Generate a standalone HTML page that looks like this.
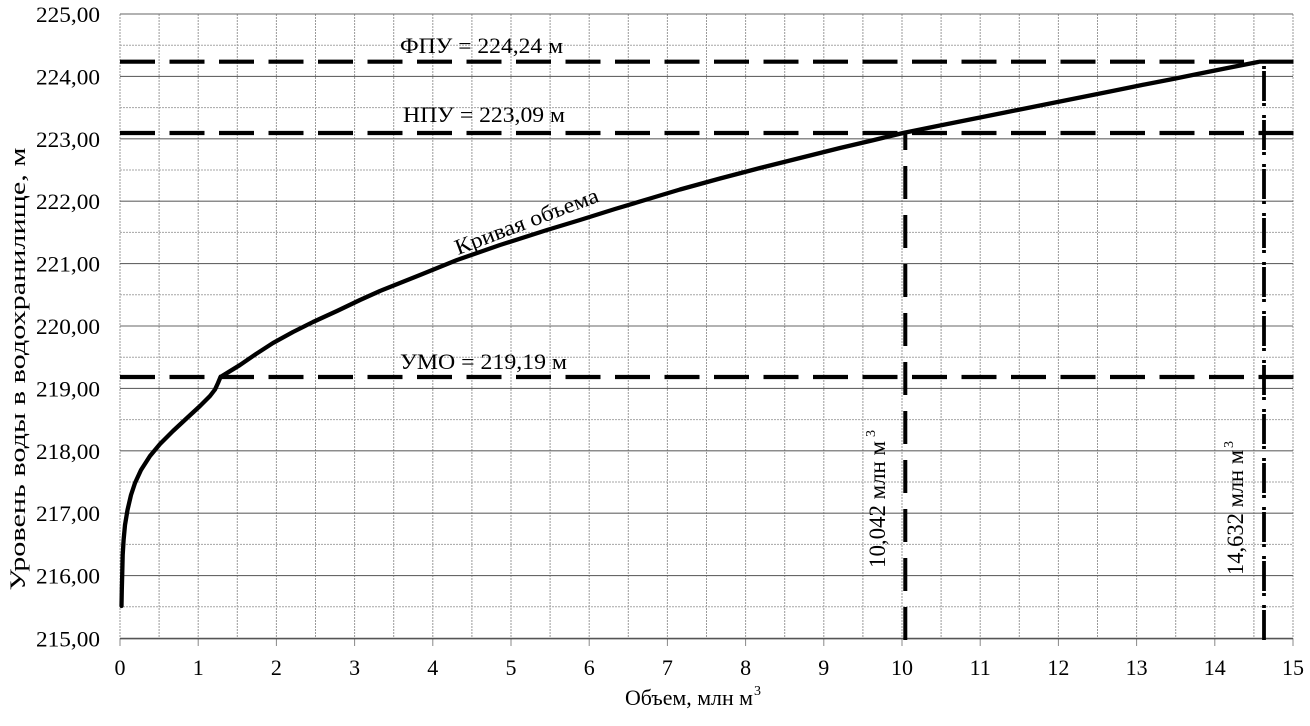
<!DOCTYPE html>
<html>
<head>
<meta charset="utf-8">
<style>
html,body{margin:0;padding:0;background:#fff;}
svg{display:block;}
text{font-family:"Liberation Serif","DejaVu Serif",serif;fill:#000;}
</style>
</head>
<body>
<svg width="1310" height="726" viewBox="0 0 1310 726" xmlns="http://www.w3.org/2000/svg">
<rect x="0" y="0" width="1310" height="726" fill="#fff"/>

<!-- vertical gridlines -->
<g stroke="#9a9a9a" stroke-width="1" stroke-dasharray="2 1">
<line x1="120" y1="14" x2="120" y2="639"/>
<line x1="159.1" y1="14" x2="159.1" y2="639"/>
<line x1="198.2" y1="14" x2="198.2" y2="639"/>
<line x1="237.3" y1="14" x2="237.3" y2="639"/>
<line x1="276.4" y1="14" x2="276.4" y2="639"/>
<line x1="315.5" y1="14" x2="315.5" y2="639"/>
<line x1="354.6" y1="14" x2="354.6" y2="639"/>
<line x1="393.7" y1="14" x2="393.7" y2="639"/>
<line x1="432.8" y1="14" x2="432.8" y2="639"/>
<line x1="471.9" y1="14" x2="471.9" y2="639"/>
<line x1="511" y1="14" x2="511" y2="639"/>
<line x1="550.1" y1="14" x2="550.1" y2="639"/>
<line x1="589.2" y1="14" x2="589.2" y2="639"/>
<line x1="628.3" y1="14" x2="628.3" y2="639"/>
<line x1="667.4" y1="14" x2="667.4" y2="639"/>
<line x1="706.5" y1="14" x2="706.5" y2="639"/>
<line x1="745.6" y1="14" x2="745.6" y2="639"/>
<line x1="784.7" y1="14" x2="784.7" y2="639"/>
<line x1="823.8" y1="14" x2="823.8" y2="639"/>
<line x1="862.9" y1="14" x2="862.9" y2="639"/>
<line x1="902" y1="14" x2="902" y2="639"/>
<line x1="941.1" y1="14" x2="941.1" y2="639"/>
<line x1="980.2" y1="14" x2="980.2" y2="639"/>
<line x1="1019.3" y1="14" x2="1019.3" y2="639"/>
<line x1="1058.4" y1="14" x2="1058.4" y2="639"/>
<line x1="1097.5" y1="14" x2="1097.5" y2="639"/>
<line x1="1136.6" y1="14" x2="1136.6" y2="639"/>
<line x1="1175.7" y1="14" x2="1175.7" y2="639"/>
<line x1="1214.8" y1="14" x2="1214.8" y2="639"/>
<line x1="1253.9" y1="14" x2="1253.9" y2="639"/>
<line x1="1293" y1="14" x2="1293" y2="639"/>
</g>

<!-- x tick marks -->
<g stroke="#888" stroke-width="1">
<line x1="120" y1="639" x2="120" y2="646"/>
<line x1="198.2" y1="639" x2="198.2" y2="646"/>
<line x1="276.4" y1="639" x2="276.4" y2="646"/>
<line x1="354.6" y1="639" x2="354.6" y2="646"/>
<line x1="432.8" y1="639" x2="432.8" y2="646"/>
<line x1="511" y1="639" x2="511" y2="646"/>
<line x1="589.2" y1="639" x2="589.2" y2="646"/>
<line x1="667.4" y1="639" x2="667.4" y2="646"/>
<line x1="745.6" y1="639" x2="745.6" y2="646"/>
<line x1="823.8" y1="639" x2="823.8" y2="646"/>
<line x1="902" y1="639" x2="902" y2="646"/>
<line x1="980.2" y1="639" x2="980.2" y2="646"/>
<line x1="1058.4" y1="639" x2="1058.4" y2="646"/>
<line x1="1136.6" y1="639" x2="1136.6" y2="646"/>
<line x1="1214.8" y1="639" x2="1214.8" y2="646"/>
<line x1="1293" y1="639" x2="1293" y2="646"/>
</g>

<!-- horizontal half gridlines -->
<g stroke="#a5a5a5" stroke-width="1" stroke-dasharray="2 1">
<line x1="120" y1="45.2" x2="1293" y2="45.2"/>
<line x1="120" y1="107.6" x2="1293" y2="107.6"/>
<line x1="120" y1="170" x2="1293" y2="170"/>
<line x1="120" y1="232.4" x2="1293" y2="232.4"/>
<line x1="120" y1="294.8" x2="1293" y2="294.8"/>
<line x1="120" y1="357.2" x2="1293" y2="357.2"/>
<line x1="120" y1="419.6" x2="1293" y2="419.6"/>
<line x1="120" y1="482" x2="1293" y2="482"/>
<line x1="120" y1="544.4" x2="1293" y2="544.4"/>
<line x1="120" y1="606.8" x2="1293" y2="606.8"/>
</g>
<!-- horizontal integer gridlines -->
<g stroke="#666" stroke-width="1.1">
<line x1="120" y1="14" x2="1293" y2="14"/>
<line x1="120" y1="76.4" x2="1293" y2="76.4"/>
<line x1="120" y1="138.8" x2="1293" y2="138.8"/>
<line x1="120" y1="201.2" x2="1293" y2="201.2"/>
<line x1="120" y1="263.6" x2="1293" y2="263.6"/>
<line x1="120" y1="326" x2="1293" y2="326"/>
<line x1="120" y1="388.4" x2="1293" y2="388.4"/>
<line x1="120" y1="450.8" x2="1293" y2="450.8"/>
<line x1="120" y1="513.2" x2="1293" y2="513.2"/>
<line x1="120" y1="575.6" x2="1293" y2="575.6"/>
</g>
<line x1="120" y1="638.6" x2="1293" y2="638.6" stroke="#555" stroke-width="1.6"/>

<!-- Y tick labels -->
<g font-size="22" text-anchor="end">
<text x="100" y="22" textLength="64" lengthAdjust="spacingAndGlyphs">225,00</text>
<text x="100" y="84.4" textLength="64" lengthAdjust="spacingAndGlyphs">224,00</text>
<text x="100" y="146.8" textLength="64" lengthAdjust="spacingAndGlyphs">223,00</text>
<text x="100" y="209.2" textLength="64" lengthAdjust="spacingAndGlyphs">222,00</text>
<text x="100" y="271.6" textLength="64" lengthAdjust="spacingAndGlyphs">221,00</text>
<text x="100" y="334" textLength="64" lengthAdjust="spacingAndGlyphs">220,00</text>
<text x="100" y="396.4" textLength="64" lengthAdjust="spacingAndGlyphs">219,00</text>
<text x="100" y="458.8" textLength="64" lengthAdjust="spacingAndGlyphs">218,00</text>
<text x="100" y="521.2" textLength="64" lengthAdjust="spacingAndGlyphs">217,00</text>
<text x="100" y="583.6" textLength="64" lengthAdjust="spacingAndGlyphs">216,00</text>
<text x="100" y="646.5" textLength="64" lengthAdjust="spacingAndGlyphs">215,00</text>
</g>

<!-- X tick labels -->
<g font-size="22" text-anchor="middle">
<text x="120" y="675">0</text>
<text x="198.2" y="675">1</text>
<text x="276.4" y="675">2</text>
<text x="354.6" y="675">3</text>
<text x="432.8" y="675">4</text>
<text x="511" y="675">5</text>
<text x="589.2" y="675">6</text>
<text x="667.4" y="675">7</text>
<text x="745.6" y="675">8</text>
<text x="823.8" y="675">9</text>
<text x="902" y="675">10</text>
<text x="980.2" y="675">11</text>
<text x="1058.4" y="675">12</text>
<text x="1136.6" y="675">13</text>
<text x="1214.8" y="675">14</text>
<text x="1293" y="675">15</text>
</g>

<!-- Axis titles -->
<text x="625" y="705" font-size="22" textLength="128" lengthAdjust="spacingAndGlyphs">Объем, млн м</text>
<text x="754" y="695" font-size="14">3</text>
<text transform="translate(25,369) rotate(-90)" font-size="22" text-anchor="middle" textLength="443" lengthAdjust="spacingAndGlyphs">Уровень воды в водохранилище, м</text>

<!-- Horizontal reference dashed lines -->
<g stroke="#000" stroke-width="4.2" stroke-dasharray="35 14.5" fill="none">
<line x1="120" y1="61.7" x2="1294" y2="61.7"/>
<line x1="120" y1="133" x2="1294" y2="133"/>
<line x1="120" y1="377" x2="1294" y2="377"/>
</g>

<!-- vertical dashed line at 10.042 -->
<line x1="905.3" y1="640" x2="905.3" y2="133" stroke="#000" stroke-width="4" stroke-dasharray="33 16"/>

<!-- vertical dash-dot line at 14.632 -->
<line x1="1264" y1="66" x2="1264" y2="640" stroke="#000" stroke-width="3.8" stroke-dasharray="3 2 30 2 3 9"/>

<!-- curve -->
<polyline fill="none" stroke="#000" stroke-width="4.3" stroke-linejoin="round" stroke-linecap="round"
points="121.5,606 121.8,590 122.2,575 122.7,555 123.6,540 125,525 127.5,510 131,495 135,483 141,470 150,456 160,444 173,431 187,418 200,406 210,396 215,389.5 218,383 220.5,377 240,365 256,354 273,343 293,332 313,322 337,311 360,300 380,291 420,275 457,260 500,245 547,230 580,220 615,209 650,198.5 680,189.5 720,178.5 760,168 800,158 840,148 872,140.5 903,133 935,126.5 970,119.5 1005,112.5 1040,105.5 1075,98.5 1110,91.5 1142,85 1173,79 1200,73.5 1225,68.5 1258,62"/>

<!-- Labels -->
<text x="400" y="53" font-size="22" textLength="163" lengthAdjust="spacingAndGlyphs">ФПУ = 224,24 м</text>
<text x="403" y="122" font-size="22" textLength="162" lengthAdjust="spacingAndGlyphs">НПУ = 223,09 м</text>
<text x="400" y="369" font-size="22" textLength="167" lengthAdjust="spacingAndGlyphs">УМО = 219,19 м</text>

<text transform="translate(458,255) rotate(-20.7)" font-size="22" textLength="152" lengthAdjust="spacingAndGlyphs">Кривая объема</text>

<text transform="translate(885,568) rotate(-90)" font-size="23" textLength="127" lengthAdjust="spacingAndGlyphs">10,042 млн м</text>
<text transform="translate(875,437) rotate(-90)" font-size="14">3</text>

<text transform="translate(1243,575) rotate(-90)" font-size="23" textLength="125" lengthAdjust="spacingAndGlyphs">14,632 млн м</text>
<text transform="translate(1233,448) rotate(-90)" font-size="14">3</text>
</svg>
</body>
</html>
